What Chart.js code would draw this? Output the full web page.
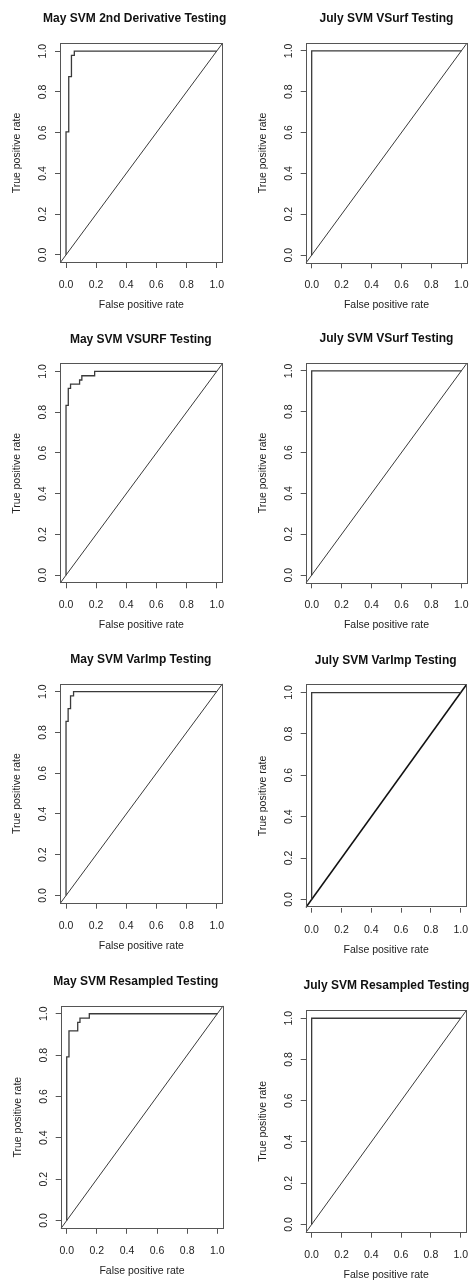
<!DOCTYPE html>
<html>
<head>
<meta charset="utf-8">
<script src="https://cdn.jsdelivr.net/npm/chart.js@4.4.1/dist/chart.umd.min.js"></script>
<style>
  body { margin: 0; background: #fff; }
  #page { position: relative; width: 470px; height: 1281px; overflow: hidden; background: #fff; }
  canvas { position: absolute; }
</style>
</head>
<body>
<div id="page"></div>
<script>
// panel titles, row by row (left, right)
var titles = [
  "May SVM 2nd Derivative Testing", "July SVM VSurf Testing",
  "May SVM VSURF Testing", "July SVM VSurf Testing",
  "May SVM VarImp Testing", "July SVM VarImp Testing",
  "May SVM Resampled Testing", "July SVM Resampled Testing"
];
var xTitle = "False positive rate";
var yTitle = "True positive rate";
var tickValues = [0, 0.2, 0.4, 0.6, 0.8, 1];
var tickLabels = ["0.0", "0.2", "0.4", "0.6", "0.8", "1.0"];
var axisMin = -0.04, axisMax = 1.04;   // R adds 4% on each side
var diagonal = [axisMin, axisMax];     // abline(0, 1)

// ROC corner points
var fprMay2nd = [0, 0, 0.018, 0.036, 0.055, 0.109, 1];
var tprMay2nd = [0, 0.5, 0.604, 0.875, 0.979, 1, 1];

var fprJulyVsurf = [0, 0, 1];
var tprJulyVsurf = [0, 1, 1];

var fprMayVsurf = [0, 0, 0.015, 0.03, 0.09, 0.105, 0.19, 0.31, 1];
var tprMayVsurf = [0, 0.729, 0.833, 0.917, 0.938, 0.958, 0.979, 1, 1];

var fprJulyVsurf2 = [0, 0, 1];
var tprJulyVsurf2 = [0, 1, 1];

var fprMayVarimp = [0, 0, 0.014, 0.03, 0.05, 0.133, 1];
var tprMayVarimp = [0, 0.583, 0.854, 0.917, 0.979, 1, 1];

var fprJulyVarimp = [0, 0, 1];
var tprJulyVarimp = [0, 1, 1];

var fprMayResampled = [0, 0, 0.015, 0.073, 0.088, 0.15, 0.188, 1];
var tprMayResampled = [0, 0.146, 0.792, 0.917, 0.958, 0.979, 1, 1];

var fprJulyResampled = [0, 0, 1];
var tprJulyResampled = [0, 1, 1];

var curves = [
  [fprMay2nd, tprMay2nd], [fprJulyVsurf, tprJulyVsurf],
  [fprMayVsurf, tprMayVsurf], [fprJulyVsurf2, tprJulyVsurf2],
  [fprMayVarimp, tprMayVarimp], [fprJulyVarimp, tprJulyVarimp],
  [fprMayResampled, tprMayResampled], [fprJulyResampled, tprJulyResampled]
];

// where each panel sits: canvas (left, top, w, h) and plot box inside it (L, T, R, B), title centre x
var layout = [
  {cx: 0,   cy: 0,   w: 235, h: 320, L: 60,   T: 43,   R: 222.7, B: 263,   tx: 134.7},
  {cx: 235, cy: 0,   w: 235, h: 320, L: 70.7, T: 42.7, R: 232.3, B: 263.3, tx: 151.5},
  {cx: 0,   cy: 320, w: 235, h: 320, L: 60,   T: 43.3, R: 222.7, B: 263.3, tx: 140.8},
  {cx: 235, cy: 320, w: 235, h: 320, L: 70.7, T: 42.7, R: 232.3, B: 263.3, tx: 151.5},
  {cx: 0,   cy: 640, w: 235, h: 320, L: 60,   T: 43.5, R: 222.7, B: 263.7, tx: 140.8},
  {cx: 235, cy: 640, w: 235, h: 320, L: 70.7, T: 44.3, R: 231.7, B: 267.7, tx: 150.7, thick: true},
  {cx: 0,   cy: 960, w: 235, h: 321, L: 60.7, T: 45.5, R: 223.3, B: 268.8, tx: 135.8},
  {cx: 235, cy: 960, w: 235, h: 321, L: 70.7, T: 50,   R: 231.7, B: 272.7, tx: 151.5}
];

var FONT = '"Liberation Sans", Arial, Helvetica, sans-serif';
var labSize = 10.5, labLH = labSize * 1.2;
var ink = '#222';
var lineCol = '#3a3a3a';

// main title + box round the plot region, like R's plot()
var rPlot = {
  id: 'rPlot',
  afterDraw: function (chart, args, opts) {
    var ctx = chart.ctx, a = chart.chartArea;
    ctx.save();
    ctx.strokeStyle = '#555';
    ctx.lineWidth = 1;
    ctx.strokeRect(Math.round(a.left) + 0.5, Math.round(a.top) + 0.5,
                   Math.round(a.right - a.left) - 1, Math.round(a.bottom - a.top) - 1);
    ctx.fillStyle = '#111';
    ctx.font = 'bold 12px ' + FONT;
    ctx.textAlign = 'center';
    ctx.textBaseline = 'middle';
    ctx.fillText(opts.text, opts.x, a.top - 24);
    ctx.restore();
  }
};

var page = document.getElementById('page');

for (let i = 0; i < layout.length; i++) {
  let p = layout[i];
  let cv = document.createElement('canvas');
  cv.width = p.w; cv.height = p.h;
  cv.style.left = p.cx + 'px'; cv.style.top = p.cy + 'px';
  page.appendChild(cv);

  let fpr = curves[i][0], tpr = curves[i][1];

  new Chart(cv, {
    type: 'line',
    data: {
      datasets: [{
        data: fpr.map(function (x, k) { return {x: x, y: tpr[k]}; }),
        stepped: 'after',
        borderColor: lineCol,
        borderWidth: 1.3,
        pointRadius: 0,
        fill: false
      }, {
        data: diagonal.map(function (v) { return {x: v, y: v}; }),
        borderColor: p.thick ? '#111' : lineCol,
        borderWidth: p.thick ? 1.6 : 1,
        pointRadius: 0,
        fill: false
      }]
    },
    options: {
      responsive: false,
      animation: false,
      devicePixelRatio: 1,
      layout: { padding: { left: 0, top: p.T, right: p.w - p.R, bottom: 0 } },
      plugins: {
        legend: { display: false },
        tooltip: { enabled: false },
        rPlot: { text: titles[i], x: p.tx }
      },
      scales: {
        x: {
          type: 'linear', min: axisMin, max: axisMax,
          afterBuildTicks: function (s) { s.ticks = tickValues.map(function (v) { return {value: v}; }); },
          afterFit: function (s) { s.height = p.h - p.B; s.paddingLeft = 0; s.paddingRight = 0; },
          ticks: {
            autoSkip: false, maxRotation: 0,
            callback: function (v, k) { return tickLabels[k]; },
            font: { family: FONT, size: labSize }, color: ink,
            padding: 22 - 5 - labLH / 2
          },
          grid: { drawOnChartArea: false, drawTicks: true, tickLength: 5, color: '#555' },
          border: { display: false },
          title: {
            display: true, text: xTitle, color: ink,
            font: { family: FONT, size: labSize },
            padding: { top: 0, bottom: p.h - (p.B + 42) - labLH / 2 }
          }
        },
        y: {
          type: 'linear', min: axisMin, max: axisMax,
          afterBuildTicks: function (s) { s.ticks = tickValues.map(function (v) { return {value: v}; }); },
          afterFit: function (s) { s.width = p.L; s.paddingTop = 0; s.paddingBottom = 0; },
          ticks: {
            autoSkip: false, minRotation: 90, maxRotation: 90, crossAlign: 'center',
            callback: function (v, k) { return tickLabels[k]; },
            font: { family: FONT, size: labSize }, color: ink,
            padding: 17 - 5 - 7.3
          },
          grid: { drawOnChartArea: false, drawTicks: true, tickLength: 5, color: '#555' },
          border: { display: false },
          title: {
            display: true, text: yTitle, color: ink,
            font: { family: FONT, size: labSize },
            padding: { top: p.L - 42.5 - labLH / 2, bottom: 0 }
          }
        }
      }
    },
    plugins: [rPlot]
  });
}
</script>
</body>
</html>
